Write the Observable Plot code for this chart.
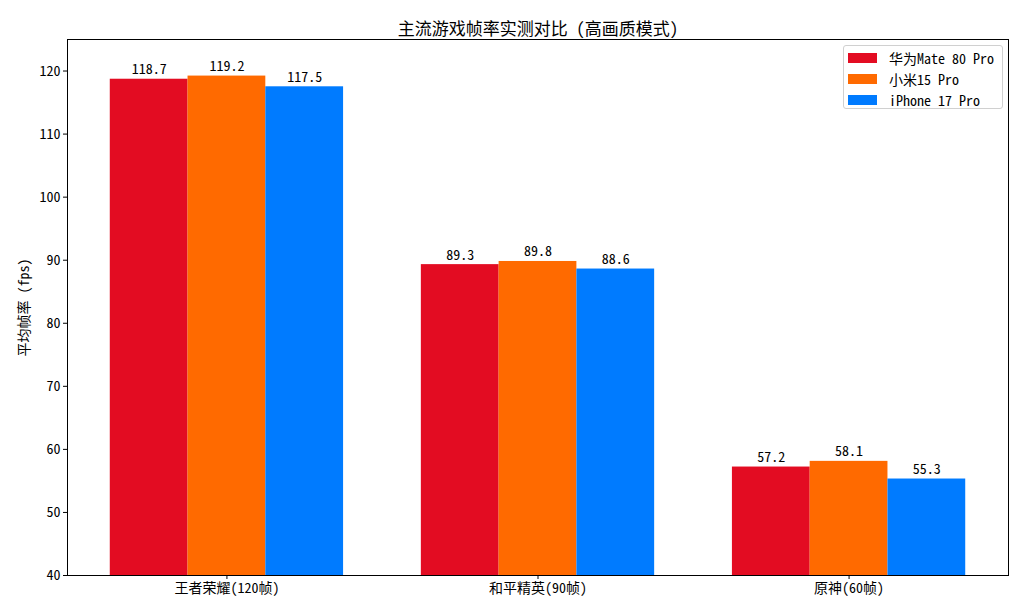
<!DOCTYPE html>
<html>
<head>
<meta charset="utf-8">
<script src="https://cdn.jsdelivr.net/npm/d3@7"></script>
<script src="https://cdn.jsdelivr.net/npm/@observablehq/plot@0.6"></script>
<style>
  body { margin: 0; background: #fff; }
  #wrap { position: relative; width: 1024px; height: 614px; font-family: "Noto Sans Mono CJK SC", "Noto Sans CJK SC", sans-serif; }
  #legend { position: absolute; left: 843px; top: 45px; width: 150px; height: 58px; padding: 2px 4px; border: 1px solid #d0d0d0; border-radius: 3px; background: rgba(255,255,255,0.85); }
  #legend svg { margin-right: 12px !important; }
</style>
</head>
<body>
<div id="wrap"></div>
<script>
const title = "主流游戏帧率实测对比 (高画质模式)";
const yLabel = "平均帧率 (fps)";
const games = ["王者荣耀(120帧)", "和平精英(90帧)", "原神(60帧)"];
const series = ["华为Mate 80 Pro", "小米15 Pro", "iPhone 17 Pro"];
const huawei = [118.7, 89.3, 57.2];
const xiaomi = [119.2, 89.8, 58.1];
const iphone = [117.5, 88.6, 55.3];
const colors = ["#E30C22", "#FF6A00", "#007BFF"];
const yTicks = [40, 50, 60, 70, 80, 90, 100, 110, 120];

const values = [huawei, xiaomi, iphone];
const bw = 0.25;
const yMin = 40, yMax = 125;
const rows = [];
games.forEach((g, gi) => {
  series.forEach((s, si) => {
    rows.push({ game: g, series: s, value: values[si][gi], x: gi + (si - 1) * bw });
  });
});

const font = "'Noto Sans Mono CJK SC', 'Noto Sans CJK SC', sans-serif";
const chart = Plot.plot({
  width: 1024,
  height: 614,
  marginLeft: 67,
  marginRight: 16,
  marginTop: 39,
  marginBottom: 39,
  style: { fontSize: "14px", fontFamily: font, color: "#000", background: "#fff" },
  x: { domain: [-0.5125, 2.5125] },
  y: { domain: [yMin, yMax] },
  color: { domain: series, range: colors },
  marks: [
    Plot.rect(rows, { x1: d => d.x - bw / 2, x2: d => d.x + bw / 2, y1: yMin, y2: "value", fill: "series" }),
    Plot.text(rows, { x: "x", y: "value", text: d => d.value.toFixed(1), dy: -5, lineAnchor: "bottom", fontSize: 14, fill: "#000" }),
    Plot.axisX({ ticks: [0, 1, 2], tickFormat: i => games[i], tickSize: 4, tickPadding: 4, label: null, stroke: "#000", fontSize: 14 }),
    Plot.axisY({ ticks: yTicks, tickSize: 4, tickPadding: 3, label: yLabel, labelAnchor: "center", labelArrow: "none", labelOffset: 48, stroke: "#000", fontSize: 14 }),
    Plot.frame({ stroke: "#000", strokeWidth: 1 }),
    Plot.text([title], { frameAnchor: "top", dy: -17, fontSize: 17, fill: "#000" })
  ]
});
const wrap = document.getElementById("wrap");
wrap.appendChild(chart);

const legend = Plot.legend({
  color: { domain: series, range: colors },
  legend: "swatches",
  columns: 1,
  swatchWidth: 29,
  swatchHeight: 10,
  style: { fontSize: "14px", fontFamily: font, color: "#000" }
});
const box = document.createElement("div");
box.id = "legend";
box.appendChild(legend);
wrap.appendChild(box);
</script>
</body>
</html>
